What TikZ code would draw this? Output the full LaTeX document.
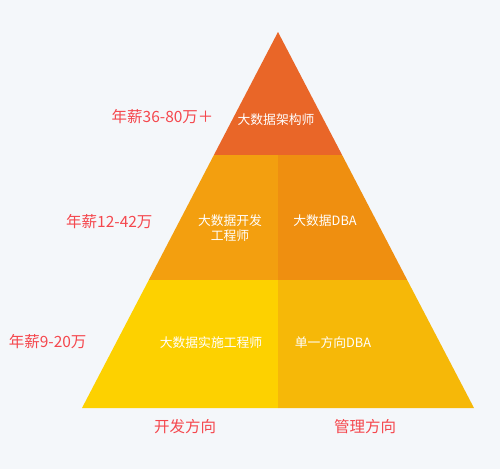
\documentclass[tikz,border=0pt]{standalone}
\usepackage{fontspec}
\setmainfont{Noto Sans CJK SC}
\usetikzlibrary{positioning}
\definecolor{bgpaper}{HTML}{F4F7FA}
\definecolor{topred}{HTML}{E96628}
\definecolor{midleft}{HTML}{F39F0F}
\definecolor{midright}{HTML}{EF8F10}
\definecolor{lowleft}{HTML}{FDD100}
\definecolor{lowright}{HTML}{F6B808}
\definecolor{salary}{HTML}{F4474D}
\tikzset{
    role/.style={text=white, font=\fontsize{12.8}{15.5}\selectfont, align=center},
    pay/.style={text=salary, font=\fontsize{15.5}{18}\selectfont},
}

\begin{document}
\begin{tikzpicture}[x=1pt, y=-1pt]
        \fill[bgpaper] (0,0) rectangle (500,469);

        % pyramid corners
        \coordinate (apex) at (278,32);
        \coordinate (l1) at (213.9,155);
        \coordinate (r1) at (342.1,155);
        \coordinate (l2) at (148.8,280);
        \coordinate (r2) at (407.2,280);
        \coordinate (l3) at (82,408);
        \coordinate (r3) at (474,408);
        \coordinate (m1) at (278,155);
        \coordinate (m2) at (278,280);
        \coordinate (m3) at (278,408);

        \fill[topred] (apex) -- (r1) -- (l1) -- cycle;
        \fill[midleft] (l1) -- (m1) -- (m2) -- (l2) -- cycle;
        \fill[midright] (m1) -- (r1) -- (r2) -- (m2) -- cycle;
        \fill[lowleft] (l2) -- (m2) -- (m3) -- (l3) -- cycle;
        \fill[lowright] (m2) -- (r2) -- (r3) -- (m3) -- cycle;

        \node[role] (architect) at (276,120) {大数据架构师};
        \node[role] (developer) at (230,228) {大数据开发\\工程师};
        \node[role] (dba) at (325,221) {大数据DBA};
        \node[role] (implementer) at (211,343) {大数据实施工程师};
        \node[role] (singledba) at (333,343) {单一方向DBA};

        \node[pay, anchor=east] (paytop) at (217,117) {年薪36-80万＋};
        \node[pay, anchor=east] (paymid) at (156,222) {年薪12-42万};
        \node[pay, anchor=east] (paylow) at (90,342) {年薪9-20万};

        \node[pay] (devway) at (185,427) {开发方向};
        \node[pay] (mgmtway) at (365,427) {管理方向};
    \end{tikzpicture}
\end{document}
